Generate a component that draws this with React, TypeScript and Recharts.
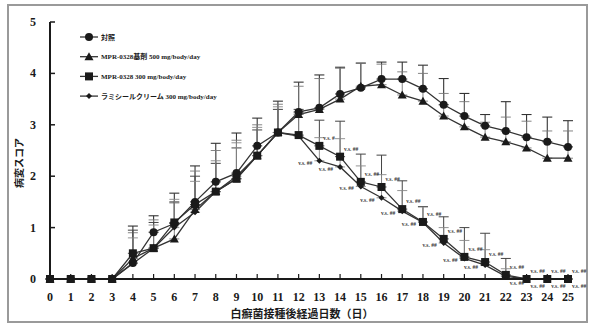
import { LineChart, Line, XAxis, YAxis, ErrorBar, LabelList } from 'recharts';

// 経過日数
const days = [0, 1, 2, 3, 4, 5, 6, 7, 8, 9, 10, 11, 12, 13, 14, 15, 16, 17, 18, 19, 20, 21, 22, 23, 24, 25];
const yTicks = [0, 1, 2, 3, 4, 5];

const seriesNames = ['対照', 'MPR-0328基剤 500 mg/body/day', 'MPR-0328 300 mg/body/day', 'ラミシールクリーム 300 mg/body/day'];

// 平均値
const control = [0, 0, 0, 0, 0.31, 0.91, 1.08, 1.5, 1.89, 2.06, 2.59, 2.85, 3.25, 3.33, 3.6, 3.72, 3.89, 3.89, 3.7, 3.39, 3.17, 2.98, 2.88, 2.76, 2.67, 2.57];
const vehicle = [0, 0, 0, 0, 0.4, 0.6, 0.78, 1.35, 1.7, 1.95, 2.4, 2.85, 3.2, 3.3, 3.5, 3.75, 3.78, 3.58, 3.46, 3.17, 2.96, 2.76, 2.67, 2.55, 2.35, 2.35];
const mpr = [0, 0, 0, 0, 0.5, 0.6, 1.1, 1.45, 1.7, 1.95, 2.4, 2.85, 2.8, 2.59, 2.38, 1.89, 1.79, 1.36, 1.11, 0.78, 0.43, 0.33, 0.08, 0, 0, 0];
const lamisil = [0, 0, 0, 0, 0.3, 0.6, 1.0, 1.3, 1.7, 2.0, 2.4, 2.85, 2.78, 2.3, 2.18, 1.8, 1.58, 1.32, 1.1, 0.7, 0.4, 0.27, 0.05, 0, 0, 0];

// 標準偏差（上側のみ表示）
const controlSd = [0, 0, 0, 0, 0.72, 0.32, 0.59, 0.7, 0.75, 0.78, 0.54, 0.61, 0.58, 0.64, 0.52, 0.48, 0.33, 0.33, 0.46, 0.51, 0.44, 0.22, 0.57, 0.44, 0.48, 0.51];
const vehicleSd = [0, 0, 0, 0, 0.5, 0.55, 0.7, 0.75, 0.8, 0.75, 0.6, 0.55, 0.55, 0.6, 0.6, 0.45, 0.4, 0.45, 0.54, 0.44, 0.49, 0.29, 0.48, 0.52, 0.53, 0.53];
const mprSd = [0, 0, 0, 0, 0.45, 0.5, 0.4, 0.55, 0.55, 0.6, 0.5, 0.45, 0.5, 0.5, 0.69, 0.54, 0.62, 0.55, 0.3, 0.43, 0.57, 0.56, 0.32, 0, 0, 0];
const lamisilSd = [0, 0, 0, 0, 0.5, 0.45, 0.55, 0.6, 0.6, 0.65, 0.55, 0.5, 0.45, 0.45, 0.55, 0.4, 0.45, 0.4, 0.3, 0.3, 0.35, 0.3, 0.15, 0, 0, 0];

// 対照群との有意差
const mprNote = ['', '', '', '', '', '', '', '', '', '', '', '', '', 'v.s. #', 'v.s. ##', 'v.s. ##', 'v.s. ##', 'v.s. ##', 'v.s. ##', 'v.s. ##', 'v.s. ##', 'v.s. ##', 'v.s. ##', 'v.s. ##', 'v.s. ##', 'v.s. ##'];
const lamisilNote = ['', '', '', '', '', '', '', '', '', '', '', '', '', 'v.s. ##', 'v.s. ##', 'v.s. ##', 'v.s. ##', 'v.s. ##', 'v.s. ##', 'v.s. ##', 'v.s. ##', 'v.s. ##', 'v.s. ##', 'v.s. ##', 'v.s. ##', 'v.s. ##'];

const data = days.map((d, i) => ({
  day: d,
  control: control[i],
  vehicle: vehicle[i],
  mpr: mpr[i],
  lamisil: lamisil[i],
  controlErr: [0, controlSd[i]],
  vehicleErr: [0, vehicleSd[i]],
  mprErr: [0, mprSd[i]],
  lamisilErr: [0, lamisilSd[i]],
  mprNote: mprNote[i],
  lamisilNote: lamisilNote[i],
}));

const font = "'Liberation Serif', 'DejaVu Serif', 'Noto Sans CJK JP', serif";
const ink = '#1a1a1a';
const lineColor = '#333';

type Shape = 'circle' | 'triangle' | 'square' | 'diamond';

function Marker({ cx, cy, shape }: { cx: number; cy: number; shape: Shape }) {
  if (cx == null || cy == null) return null;
  if (shape === 'circle') return <circle cx={cx} cy={cy} r={4} fill={ink} />;
  if (shape === 'triangle') return <polygon points={`${cx},${cy - 4.5} ${cx - 4.5},${cy + 3.5} ${cx + 4.5},${cy + 3.5}`} fill={ink} />;
  if (shape === 'square') return <rect x={cx - 4} y={cy - 4} width={8} height={8} fill={ink} />;
  return <polygon points={`${cx},${cy - 3} ${cx + 3},${cy} ${cx},${cy + 3} ${cx - 3},${cy}`} fill={ink} />;
}

const dotFor = (shape: Shape) => (p: any) => <Marker key={`${shape}-${p.index}`} cx={p.cx} cy={p.cy} shape={shape} />;

function YTick({ x, y, payload }: any) {
  return (
    <g>
      <line x1={x + 12} x2={x + 17} y1={y} y2={y} stroke={ink} strokeWidth={1.5} />
      <text x={x - 2} y={y + 4} textAnchor="end" fontSize={12} fontWeight="bold" fontFamily={font} fill={ink}>
        {payload.value}
      </text>
    </g>
  );
}

function XTick({ x, y, payload }: any) {
  return (
    <g>
      <line x1={x} x2={x} y1={y} y2={y - 5} stroke={ink} strokeWidth={1.2} />
      <text x={x} y={y + 22} textAnchor="middle" fontSize={12} fontWeight="bold" fontFamily={font} fill={ink}>
        {payload.value}
      </text>
    </g>
  );
}

function noteRight(p: any) {
  if (!p.value) return null;
  return (
    <text key={`r-${p.index}`} x={p.x + 4} y={p.y - 6} fontSize={5.5} fontWeight="bold" fontFamily={font} fill="#333">
      {p.value}
    </text>
  );
}

function noteLeft(p: any) {
  if (!p.value) return null;
  const low = p.index >= 22;
  return (
    <text key={`l-${p.index}`} x={low ? p.x + 4 : p.x - 7} y={low ? p.y + 9 : p.y + 4} textAnchor={low ? 'start' : 'end'} fontSize={5.5} fontWeight="bold" fontFamily={font} fill="#333">
      {p.value}
    </text>
  );
}

const legendShapes: Shape[] = ['circle', 'triangle', 'square', 'diamond'];

// 凡例・軸タイトル（グラフ領域の上に重ねる）
function Overlay() {
  return (
    <svg width={593} height={327} style={{ position: 'absolute', left: 0, top: 0, pointerEvents: 'none' }}>
      <g transform="translate(80, 37)">
        {seriesNames.map((name, i) => {
          const cy = i * 19.7;
          return (
            <g key={name}>
              <line x1={0} x2={18} y1={cy} y2={cy} stroke={lineColor} strokeWidth={1.3} />
              <Marker cx={9} cy={cy} shape={legendShapes[i]} />
              <text x={21} y={cy + 2.5} fontSize={7} fontWeight="bold" fontFamily={font} fill={ink}>
                {name}
              </text>
            </g>
          );
        })}
      </g>
      <text transform="translate(23, 163) rotate(-90)" textAnchor="middle" fontSize={10} fontWeight="bold" fontFamily={font} fill={ink}>
        病変スコア
      </text>
      <text x={302} y={318} textAnchor="middle" fontSize={11} fontWeight="bold" fontFamily={font} fill={ink}>
        白癬菌接種後経過日数（日）
      </text>
    </svg>
  );
}

export default function App() {
  return (
    <div style={{ position: 'absolute', left: 0, top: 0, width: 593, height: 327, background: '#fff' }}>
      <div style={{ position: 'absolute', left: 7, top: 4, width: 577, height: 315, border: '2px solid #9a9a9a' }} />
      <LineChart width={593} height={327} data={data} margin={{ top: 22, right: 25, left: 0, bottom: 0 }} style={{ position: 'absolute', left: 0, top: 0 }}>
        <XAxis
          dataKey="day"
          type="number"
          domain={[0, 25]}
          ticks={days}
          interval={0}
          height={48}
          tickSize={0}
          tickMargin={0}
          tick={<XTick />}
          axisLine={{ stroke: ink, strokeWidth: 2 }}
          tickLine={false}
          padding={{ left: 0, right: 0 }}
        />
        <YAxis
          type="number"
          domain={[0, 5]}
          ticks={yTicks}
          width={50}
          tickSize={0}
          tickMargin={12}
          tick={<YTick />}
          axisLine={{ stroke: ink, strokeWidth: 2 }}
          tickLine={false}
        />
        <Line dataKey="control" name={seriesNames[0]} stroke={lineColor} strokeWidth={1.3} dot={dotFor('circle')} activeDot={false} isAnimationActive={false}>
          <ErrorBar dataKey="controlErr" direction="y" width={5} stroke="#333" strokeWidth={1.1} />
        </Line>
        <Line dataKey="vehicle" name={seriesNames[1]} stroke={lineColor} strokeWidth={1.3} dot={dotFor('triangle')} activeDot={false} isAnimationActive={false}>
          <ErrorBar dataKey="vehicleErr" direction="y" width={5} stroke="#777" strokeWidth={0.9} />
        </Line>
        <Line dataKey="mpr" name={seriesNames[2]} stroke={lineColor} strokeWidth={1.3} dot={dotFor('square')} activeDot={false} isAnimationActive={false}>
          <ErrorBar dataKey="mprErr" direction="y" width={5} stroke="#444" strokeWidth={1} />
          <LabelList dataKey="mprNote" content={noteRight} />
        </Line>
        <Line dataKey="lamisil" name={seriesNames[3]} stroke={lineColor} strokeWidth={1.3} dot={dotFor('diamond')} activeDot={false} isAnimationActive={false}>
          <ErrorBar dataKey="lamisilErr" direction="y" width={5} stroke="#888" strokeWidth={0.9} />
          <LabelList dataKey="lamisilNote" content={noteLeft} />
        </Line>
      </LineChart>
      <Overlay />
    </div>
  );
}
